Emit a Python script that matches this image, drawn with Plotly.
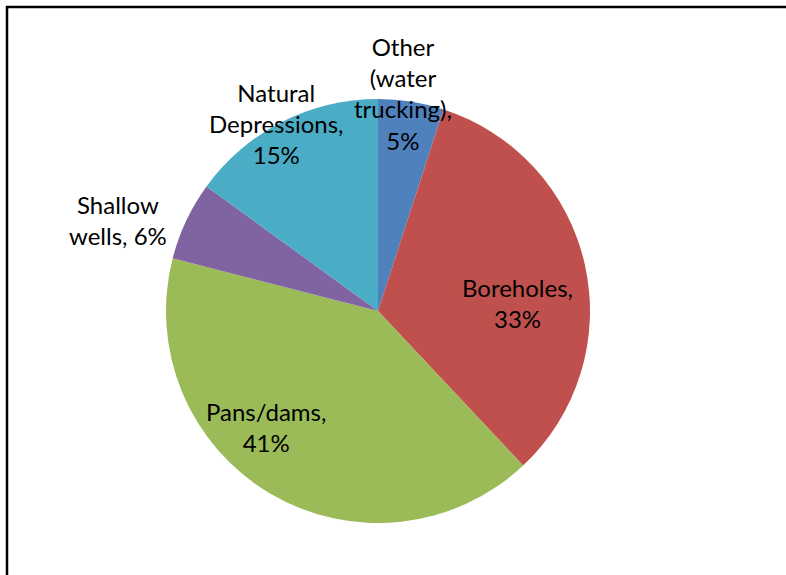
import plotly.graph_objects as go

# Water sources share (%)
labels = ["Other (water trucking)", "Boreholes", "Pans/dams", "Shallow wells", "Natural Depressions"]
values = [5, 33, 41, 6, 15]
colors = ["#4F81BD", "#C0504D", "#9BBB59", "#8064A2", "#4BACC6"]

# Label text broken into lines as placed on the chart
label_lines = [
    ["Other", "(water", "trucking),"],
    ["Boreholes,"],
    ["Pans/dams,"],
    ["Shallow", "wells,"],
    ["Natural", "Depressions,"],
]
# Label block centres in pixels (x, y from top)
label_pos = [(403, 93), (517, 303), (266, 427), (118, 220), (276, 123)]

W, H = 786, 575
cx, cy, r = 378, 311, 212

fig = go.Figure(go.Pie(
    labels=labels,
    values=values,
    sort=False,
    direction="clockwise",
    rotation=0,
    marker=dict(colors=colors, line=dict(width=0)),
    textinfo="none",
    hoverinfo="label+percent",
    showlegend=False,
    domain=dict(x=[(cx - r) / W, (cx + r) / W], y=[(H - cy - r) / H, (H - cy + r) / H]),
))

annotations = []
for lines, v, (px, py) in zip(label_lines, values, label_pos):
    parts = list(lines)
    if lines[-1] == "wells,":
        parts[-1] = f"wells, {v}%"
    else:
        parts.append(f"{v}%")
    annotations.append(dict(
        x=px / W, y=1 - py / H, xref="paper", yref="paper",
        text="<br>".join(parts), showarrow=False,
        xanchor="center", yanchor="middle", align="center",
        font=dict(family="Lato, Carlito, sans-serif", size=24, color="#000000"),
    ))

fig.update_layout(
    width=W, height=H,
    margin=dict(l=0, r=0, t=0, b=0),
    paper_bgcolor="white", plot_bgcolor="white",
    annotations=annotations,
    shapes=[dict(
        type="rect", xref="paper", yref="paper",
        x0=7 / W, x1=1.05, y0=-0.05, y1=1 - 7 / H,
        line=dict(color="#000000", width=2.5), fillcolor="rgba(0,0,0,0)", layer="above",
    )],
)

fig.write_html("out.html")
